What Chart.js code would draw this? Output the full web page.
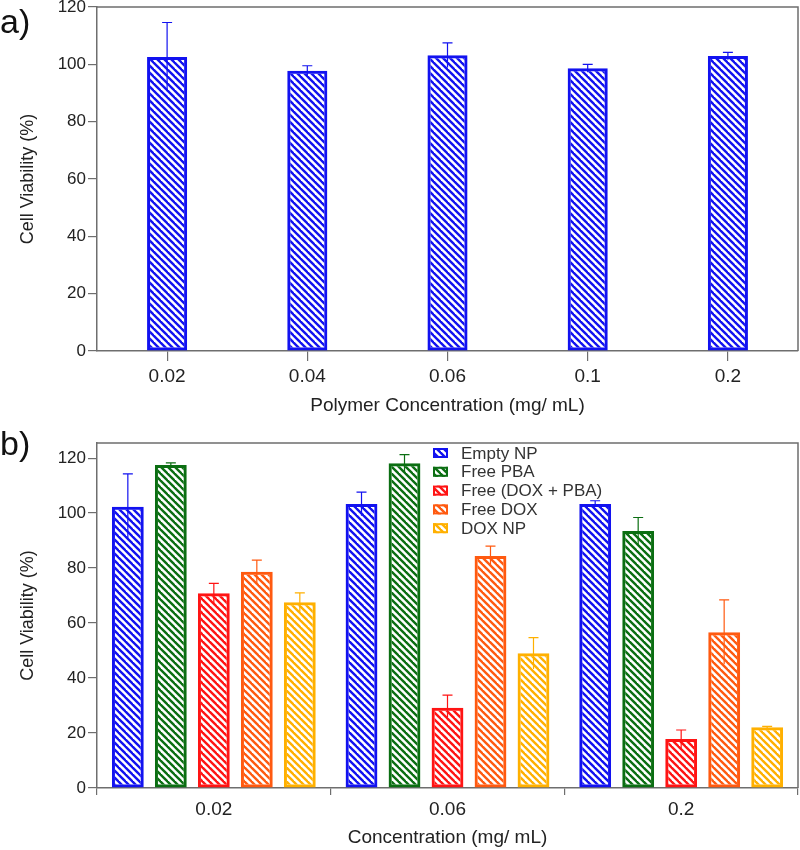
<!DOCTYPE html>
<html>
<head>
<meta charset="utf-8">
<script src="https://cdn.jsdelivr.net/npm/chart.js@4.4.1/dist/chart.umd.min.js"></script>
<style>
  body { margin: 0; background: #fff; }
  .panel { position: relative; width: 800px; height: 425px; }
</style>
</head>
<body>
<div class="panel"><canvas id="chartA" width="800" height="425"></canvas></div>
<div class="panel"><canvas id="chartB" width="800" height="425"></canvas></div>
<script>
// panel a) polymer alone
const polymerConc = ['0.02', '0.04', '0.06', '0.1', '0.2'];
const polymerViability = [102.6, 97.8, 103.2, 98.6, 102.9];
const polymerError = [12, 1.7, 4.3, 1.4, 1.3];

// panel b) treatments
const treatConc = ['0.02', '0.06', '0.2'];
const treatLabels = ['Empty NP', 'Free PBA', 'Free (DOX + PBA)', 'Free DOX', 'DOX NP'];
const emptyNP = [102.3, 103.3, 103.3];
const emptyNPErr = [12, 4.3, 1.2];
const freePBA = [117.5, 118.1, 93.5];
const freePBAErr = [0.8, 3.2, 4.9];
const freeDoxPba = [70.8, 29.2, 17.8];
const freeDoxPbaErr = [3.6, 4.6, 3.3];
const freeDox = [78.7, 84.4, 56.7];
const freeDoxErr = [4.2, 3.6, 11.7];
const doxNP = [67.6, 49.0, 22.1];
const doxNPErr = [3.4, 5.7, 0.3];

const COLORS = ['#1212f0', '#0b6e12', '#ff1414', '#ff5a10', '#ffb000'];
const FONT = 'Liberation Sans, Arial, sans-serif';
const AXIS = '#6e6e6e';

// diagonal hatch "\\\" for the bars
function hatch(color) {
    const s = 7;
    const c = document.createElement('canvas');
    c.width = s; c.height = s;
    const g = c.getContext('2d');
    g.strokeStyle = color;
    g.lineWidth = 2.4;
    [-s, 0, s].forEach(k => {
        g.beginPath();
        g.moveTo(k - 1, -1);
        g.lineTo(k + s + 1, s + 1);
        g.stroke();
    });
    return g.createPattern(c, 'repeat');
}

// error bars: full line, cap on top only
const errorBars = {
    id: 'errorBars',
    afterDatasetsDraw(chart) {
        const ctx = chart.ctx;
        const yScale = chart.scales.y;
        chart.data.datasets.forEach((ds, i) => {
            const meta = chart.getDatasetMeta(i);
            meta.data.forEach((bar, j) => {
                const v = ds.data[j], e = ds.errors[j];
                const top = yScale.getPixelForValue(v + e);
                const bot = yScale.getPixelForValue(v - e);
                ctx.save();
                ctx.strokeStyle = ds.borderColor;
                ctx.lineWidth = 1.2;
                ctx.beginPath();
                ctx.moveTo(bar.x, bot);
                ctx.lineTo(bar.x, top);
                ctx.moveTo(bar.x - 5, top);
                ctx.lineTo(bar.x + 5, top);
                ctx.stroke();
                ctx.restore();
            });
        });
    }
};

// box around plot area + panel letter
const frame = {
    id: 'frame',
    afterDraw(chart, args, opts) {
        const {ctx, chartArea: a} = chart;
        ctx.save();
        ctx.strokeStyle = AXIS;
        ctx.lineWidth = 1.5;
        ctx.beginPath();
        ctx.moveTo(a.left, a.top);
        ctx.lineTo(a.right, a.top);
        ctx.lineTo(a.right, a.bottom);
        ctx.stroke();
        ctx.fillStyle = '#111';
        ctx.font = '34px ' + FONT;
        ctx.textBaseline = 'alphabetic';
        ctx.fillText(opts.letter, 0, opts.letterY);
        ctx.restore();
    }
};

// legend inside the plot area of panel b
const hatchLegend = {
    id: 'hatchLegend',
    afterDraw(chart, args, opts) {
        if (!opts.show) return;
        const {ctx, chartArea: a} = chart;
        ctx.save();
        ctx.font = '17px ' + FONT;
        ctx.textBaseline = 'middle';
        chart.data.datasets.forEach((ds, i) => {
            const x = a.left + 336;
            const y = a.top + 10 + i * 18.8;
            ctx.fillStyle = '#fff';
            ctx.fillRect(x, y - 5, 15, 10);
            ctx.fillStyle = ds.backgroundColor;
            ctx.fillRect(x, y - 5, 15, 10);
            ctx.strokeStyle = ds.borderColor;
            ctx.lineWidth = 2;
            ctx.strokeRect(x + 1, y - 4, 13, 8);
            ctx.fillStyle = '#333';
            ctx.fillText(ds.label, x + 28, y + 1);
        });
        ctx.restore();
    }
};

function baseOptions(cfg) {
    return {
        responsive: false,
        animation: false,
        layout: { padding: { left: 17, right: 2, top: cfg.top, bottom: cfg.bottom } },
        plugins: {
            legend: { display: false },
            tooltip: { enabled: false },
            frame: { letter: cfg.letter, letterY: cfg.letterY },
            hatchLegend: { show: cfg.legend }
        },
        scales: {
            x: {
                offset: true,
                grid: { offset: cfg.gridOffset, drawOnChartArea: false, color: AXIS, tickLength: cfg.tickLength, lineWidth: 1.2 },
                border: { color: AXIS, width: 1.5 },
                ticks: { color: '#222', font: { family: FONT, size: 19 }, padding: cfg.tickPad, maxRotation: 0 },
                title: { display: true, text: cfg.xTitle, color: '#222', font: { family: FONT, size: 19 }, padding: { top: 0, bottom: cfg.titlePad } },
                afterFit: s => { s.height = cfg.xHeight; }
            },
            y: {
                min: 0,
                max: cfg.yMax,
                grid: { drawOnChartArea: false, color: AXIS, tickLength: 9, lineWidth: 1.2 },
                border: { color: AXIS, width: 1.5 },
                ticks: { stepSize: 20, includeBounds: false, color: '#222', font: { family: FONT, size: 17 }, padding: 2 },
                title: { display: true, text: 'Cell Viability (%)', color: '#222', font: { family: FONT, size: 18 }, padding: { top: 0, bottom: 0 } },
                afterFit: s => { s.width = 80; s.paddingTop = 0; }
            }
        }
    };
}

new Chart(document.getElementById('chartA'), {
    type: 'bar',
    data: {
        labels: polymerConc,
        datasets: [{
            label: 'Empty NP',
            data: polymerViability,
            errors: polymerError,
            backgroundColor: hatch(COLORS[0]),
            borderColor: COLORS[0],
            borderWidth: 3,
            borderSkipped: false,
            categoryPercentage: 1,
            barPercentage: 0.286
        }]
    },
    options: baseOptions({
        top: 7, bottom: 4, letter: 'a)', letterY: 33, legend: false,
        gridOffset: false, tickLength: 10, tickPad: 4, xTitle: 'Polymer Concentration (mg/ mL)',
        titlePad: 4, xHeight: 70, yMax: 120
    }),
    plugins: [errorBars, frame, hatchLegend]
});

const treatValues = [emptyNP, freePBA, freeDoxPba, freeDox, doxNP];
const treatErrors = [emptyNPErr, freePBAErr, freeDoxPbaErr, freeDoxErr, doxNPErr];

new Chart(document.getElementById('chartB'), {
    type: 'bar',
    data: {
        labels: treatConc,
        datasets: treatLabels.map((name, i) => ({
            label: name,
            data: treatValues[i],
            errors: treatErrors[i],
            backgroundColor: hatch(COLORS[i]),
            borderColor: COLORS[i],
            borderWidth: 3,
            borderSkipped: false,
            categoryPercentage: 0.92,
            barPercentage: 0.74
        }))
    },
    options: baseOptions({
        top: 18, bottom: 1, letter: 'b)', letterY: 30, legend: true,
        gridOffset: true, tickLength: 7, tickPad: 3, xTitle: 'Concentration (mg/ mL)',
        titlePad: 0, xHeight: 61, yMax: 125.5
    }),
    plugins: [errorBars, frame, hatchLegend]
});
</script>
</body>
</html>
